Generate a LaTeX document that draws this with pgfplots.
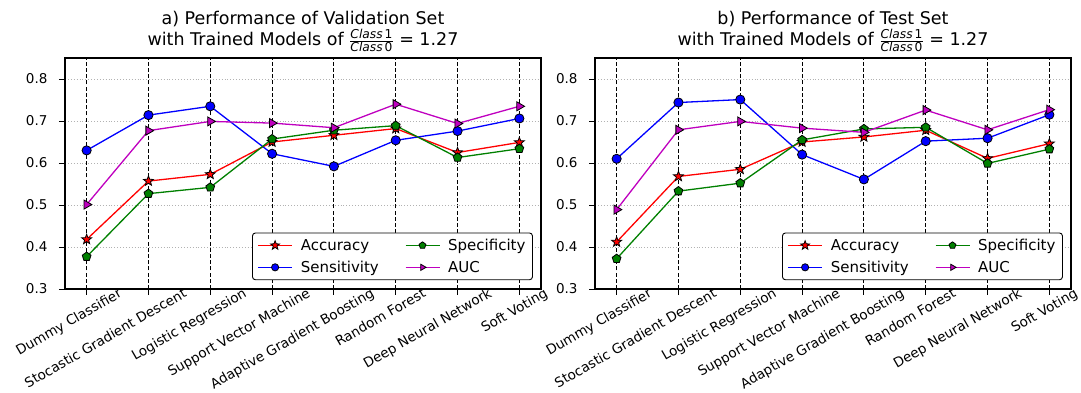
\documentclass[border=0pt]{standalone}
\usepackage{amsmath}
\usepackage{fontspec}
\setmainfont{DejaVu Sans}
\usepackage{pgfplots}
\pgfplotsset{compat=1.18}
\usetikzlibrary{plotmarks}
\definecolor{mplgreen}{RGB}{0,128,0}
\definecolor{mplmag}{RGB}{191,0,191}

\pgfdeclareplotmark{fstar}{%
  \pgfpathmoveto{\pgfpointpolar{90}{1.3\pgfplotmarksize}}%
  \pgfpathlineto{\pgfpointpolar{126}{0.55\pgfplotmarksize}}%
  \pgfpathlineto{\pgfpointpolar{162}{1.3\pgfplotmarksize}}%
  \pgfpathlineto{\pgfpointpolar{198}{0.55\pgfplotmarksize}}%
  \pgfpathlineto{\pgfpointpolar{234}{1.3\pgfplotmarksize}}%
  \pgfpathlineto{\pgfpointpolar{270}{0.55\pgfplotmarksize}}%
  \pgfpathlineto{\pgfpointpolar{306}{1.3\pgfplotmarksize}}%
  \pgfpathlineto{\pgfpointpolar{342}{0.55\pgfplotmarksize}}%
  \pgfpathlineto{\pgfpointpolar{18}{1.3\pgfplotmarksize}}%
  \pgfpathlineto{\pgfpointpolar{54}{0.55\pgfplotmarksize}}%
  \pgfpathclose\pgfusepathqfillstroke}

\pgfplotstableread{
x acc sens spec auc
0 0.418 0.630 0.377 0.501
1 0.557 0.714 0.527 0.677
2 0.573 0.735 0.542 0.699
3 0.650 0.622 0.657 0.695
4 0.666 0.592 0.678 0.684
5 0.682 0.654 0.689 0.740
6 0.625 0.676 0.613 0.694
7 0.649 0.706 0.634 0.735
}\valdata

\pgfplotstableread{
x acc sens spec auc
0 0.412 0.610 0.372 0.489
1 0.568 0.744 0.533 0.679
2 0.585 0.751 0.552 0.699
3 0.650 0.620 0.655 0.683
4 0.662 0.561 0.681 0.673
5 0.678 0.652 0.685 0.726
6 0.611 0.659 0.599 0.679
7 0.646 0.715 0.633 0.727
}\testdata

\newcommand{\xlab}[3]{\node[font=\fontsize{13.5}{16}\selectfont, rotate=30, anchor=north east, inner sep=0pt] at ([xshift=#2pt,yshift=2pt]axis cs:#1,0.3) {#3};}
\newcommand{\alllabels}{%
  \xlab{0}{31}{Dummy Classifier}
  \xlab{1}{34}{Stocastic Gradient Descent}
  \xlab{2}{32}{Logistic Regression}
  \xlab{3}{34}{Support Vector Machine}
  \xlab{4}{36}{Adaptive Gradient Boosting}
  \xlab{5}{26}{Random Forest}
  \xlab{6}{30}{Deep Neural Network}
  \xlab{7}{24}{Soft Voting}}

\pgfplotsset{
  perfaxis/.style={
    scale only axis, width=476pt, height=231pt, clip=false,
    xmin=-0.35, xmax=7.35, ymin=0.3, ymax=0.85,
    xtick={0,1,2,3,4,5,6,7},
    xticklabels={,,,,,,,},
    ytick={0.3,0.4,0.5,0.6,0.7,0.8},
    tick label style={font=\fontsize{13.5}{16}\selectfont},
    yticklabel style={xshift=-8pt, /pgf/number format/.cd, fixed, fixed zerofill, precision=1, assume math mode=true},
    tick align=outside, xtick pos=left, ytick pos=left,
    major tick length=6pt,
    tick style={black, line width=0.9pt},
    axis line style={black, line width=1.1pt},
    xmajorgrids, ymajorgrids,
    major x grid style={black, line width=0.9pt, dash pattern=on 4pt off 2.2pt},
    major y grid style={gray!60, line width=0.9pt, dotted},
    title style={font=\fontsize{17.5}{21}\selectfont, align=center, yshift=-3pt},
    legend columns=2, transpose legend,
    legend cell align=left,
    legend style={at={(0.983,0.038)}, anchor=south east, draw=black, line width=0.9pt,
      rounded corners=3pt, font=\fontsize{15}{18}\selectfont,
      /tikz/every odd column/.append style={column sep=6pt},
      /tikz/column 2/.append style={column sep=24pt},
      row sep=5pt, inner xsep=5pt, inner ysep=4pt},
    legend image code/.code={\draw[sharp corners, mark repeat=2, mark phase=2, mark size=3.6pt] plot coordinates {(0pt,0pt) (17pt,0pt) (34pt,0pt)};},
  },
  accstyle/.style={red, line width=1.3pt, mark=fstar, mark size=4pt, mark options={fill=red, draw=black, line width=0.8pt, solid, sharp corners}},
  sensstyle/.style={blue, line width=1.3pt, mark=*, mark size=4.6pt, mark options={fill=blue, draw=black, line width=0.8pt, solid}},
  specstyle/.style={mplgreen, line width=1.3pt, mark=pentagon*, mark size=4.6pt, mark options={fill=mplgreen, draw=black, line width=0.8pt, solid, sharp corners}},
  aucstyle/.style={mplmag, line width=1.3pt, mark=triangle*, mark size=5.2pt, mark options={fill=mplmag, draw=black, line width=0.8pt, solid, rotate=-90, sharp corners}},
}

\begin{document}
\begin{tikzpicture}
\path[use as bounding box] (-65pt,-104pt) rectangle (1016pt,289pt);
\begin{axis}[perfaxis, at={(0pt,0pt)}, anchor=south west,
  title={a) Performance of Validation Set\\with Trained Models of $\frac{\text{\itshape Class}\,\text{1}}{\text{\itshape Class}\,\text{0}}$ = 1.27}]
\addplot[accstyle] table[x=x, y=acc] {\valdata};
\addlegendentry{Accuracy}
\addplot[sensstyle] table[x=x, y=sens] {\valdata};
\addlegendentry{Sensitivity}
\addplot[specstyle] table[x=x, y=spec] {\valdata};
\addlegendentry{Specificity}
\addplot[aucstyle] table[x=x, y=auc] {\valdata};
\addlegendentry{AUC}
\alllabels
\end{axis}
\begin{axis}[perfaxis, at={(530pt,0pt)}, anchor=south west,
  title={b) Performance of Test Set\\with Trained Models of $\frac{\text{\itshape Class}\,\text{1}}{\text{\itshape Class}\,\text{0}}$ = 1.27}]
\addplot[accstyle] table[x=x, y=acc] {\testdata};
\addlegendentry{Accuracy}
\addplot[sensstyle] table[x=x, y=sens] {\testdata};
\addlegendentry{Sensitivity}
\addplot[specstyle] table[x=x, y=spec] {\testdata};
\addlegendentry{Specificity}
\addplot[aucstyle] table[x=x, y=auc] {\testdata};
\addlegendentry{AUC}
\alllabels
\end{axis}
\end{tikzpicture}
\end{document}
